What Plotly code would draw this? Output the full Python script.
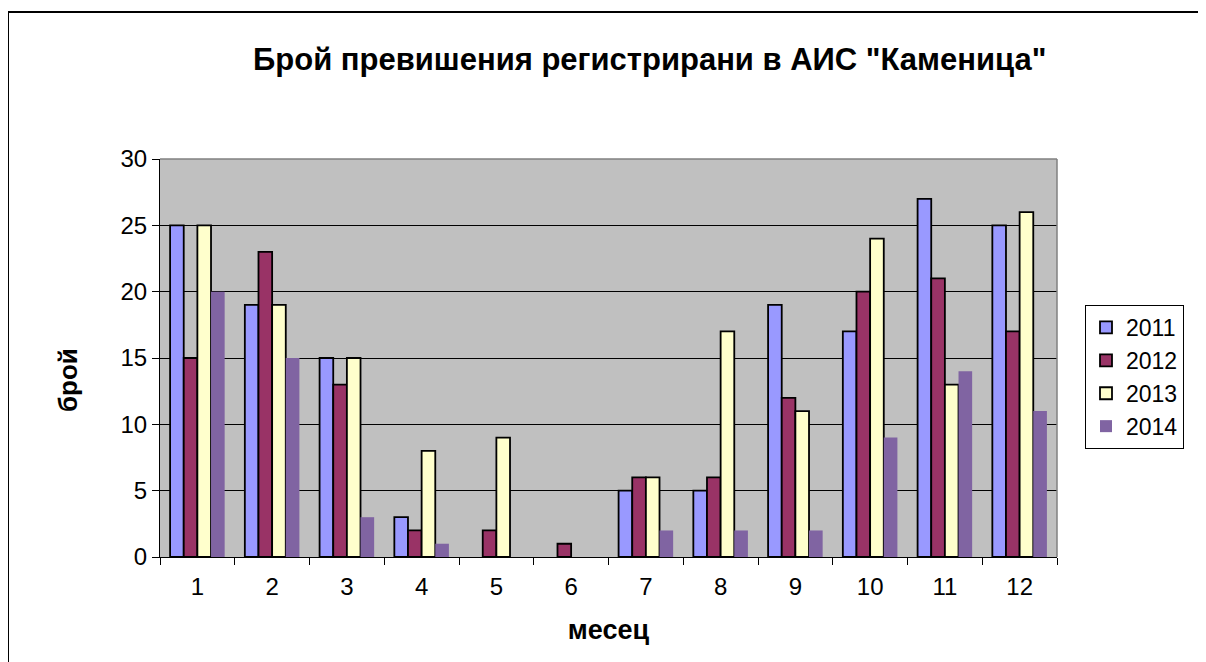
import plotly.graph_objects as go

months = [str(i) for i in range(1, 13)]
years = ["2011", "2012", "2013", "2014"]
v2011 = [25, 19, 15, 3, 0, 0, 5, 5, 19, 17, 27, 25]
v2012 = [15, 23, 13, 2, 2, 1, 6, 6, 12, 20, 21, 17]
v2013 = [25, 19, 15, 8, 9, 0, 6, 17, 11, 24, 13, 26]
v2014 = [20, 15, 3, 1, 0, 0, 2, 2, 2, 9, 14, 11]
series = [v2011, v2012, v2013, v2014]
colors = ["#9999FF", "#993366", "#FFFFCC", "#8064A2"]
outline = [1.8, 1.8, 1.8, 0]

FONT = "Liberation Sans, Arial, sans-serif"

fig = go.Figure()
for name, vals, c, lw in zip(years, series, colors, outline):
    fig.add_trace(go.Bar(
        x=months, y=[v if v else None for v in vals], name=name, legendgroup=name,
        marker=dict(color=c, line=dict(color="black", width=lw)),
    ))

# the page body has an 8px margin, compensate
OFF = 8
W, H = 1206 - OFF, 662 - OFF
L, R, T, B = 160, 1057, 159, 557  # plot area in screen pixels
pw, ph = R - L, B - T

def px(x):
    return (x - L) / pw

def py(y):
    return (B - y) / ph

fig.update_layout(
    width=W, height=H,
    margin=dict(l=L - OFF, r=W - (R - OFF), t=T - OFF, b=H - (B - OFF)),
    paper_bgcolor="white", plot_bgcolor="#C0C0C0",
    barmode="group", bargap=0.27, bargroupgap=0,
    font=dict(family=FONT, size=24, color="black"),
    showlegend=True,
    legend=dict(
        x=px(1085), y=py(305), xanchor="left", yanchor="top",
        bordercolor="black", borderwidth=1, bgcolor="white",
        font=dict(size=23), tracegroupgap=0, itemwidth=30,
    ),
    xaxis=dict(
        type="category", tickson="boundaries", ticks="outside", ticklen=7,
        tickcolor="black", showline=True, linecolor="black", linewidth=1,
        showgrid=False, tickfont=dict(size=24), ticklabelstandoff=8,
        title=dict(text="<b>месец</b>", font=dict(size=27), standoff=21),
    ),
    yaxis=dict(
        range=[0, 30], dtick=5, ticks="outside", ticklen=7, tickcolor="black",
        showline=True, linecolor="black", linewidth=1,
        showgrid=True, gridcolor="black", gridwidth=1,
        tickfont=dict(size=24), zeroline=False,
    ),
    shapes=[
        dict(type="rect", xref="paper", yref="paper",
             x0=px(8), x1=px(1215), y0=py(12), y1=py(680),
             line=dict(color="black", width=2), layer="below"),
        dict(type="line", xref="paper", yref="paper",
             x0=0, x1=1, y0=1, y1=1, line=dict(color="#808080", width=1.5)),
        dict(type="line", xref="paper", yref="paper",
             x0=1, x1=1, y0=0, y1=1, line=dict(color="#808080", width=1.5)),
    ],
    annotations=[
        dict(text="<b>Брой превишения регистрирани в АИС \"Каменица\"</b>",
             xref="paper", yref="paper", x=px(649), y=py(60),
             xanchor="center", yanchor="middle", showarrow=False,
             font=dict(size=31)),
        dict(text="<b>брой</b>", textangle=-90,
             xref="paper", yref="paper", x=px(68), y=py(380),
             xanchor="center", yanchor="middle", showarrow=False,
             font=dict(size=26)),
    ],
)

fig.write_html("out.html")
